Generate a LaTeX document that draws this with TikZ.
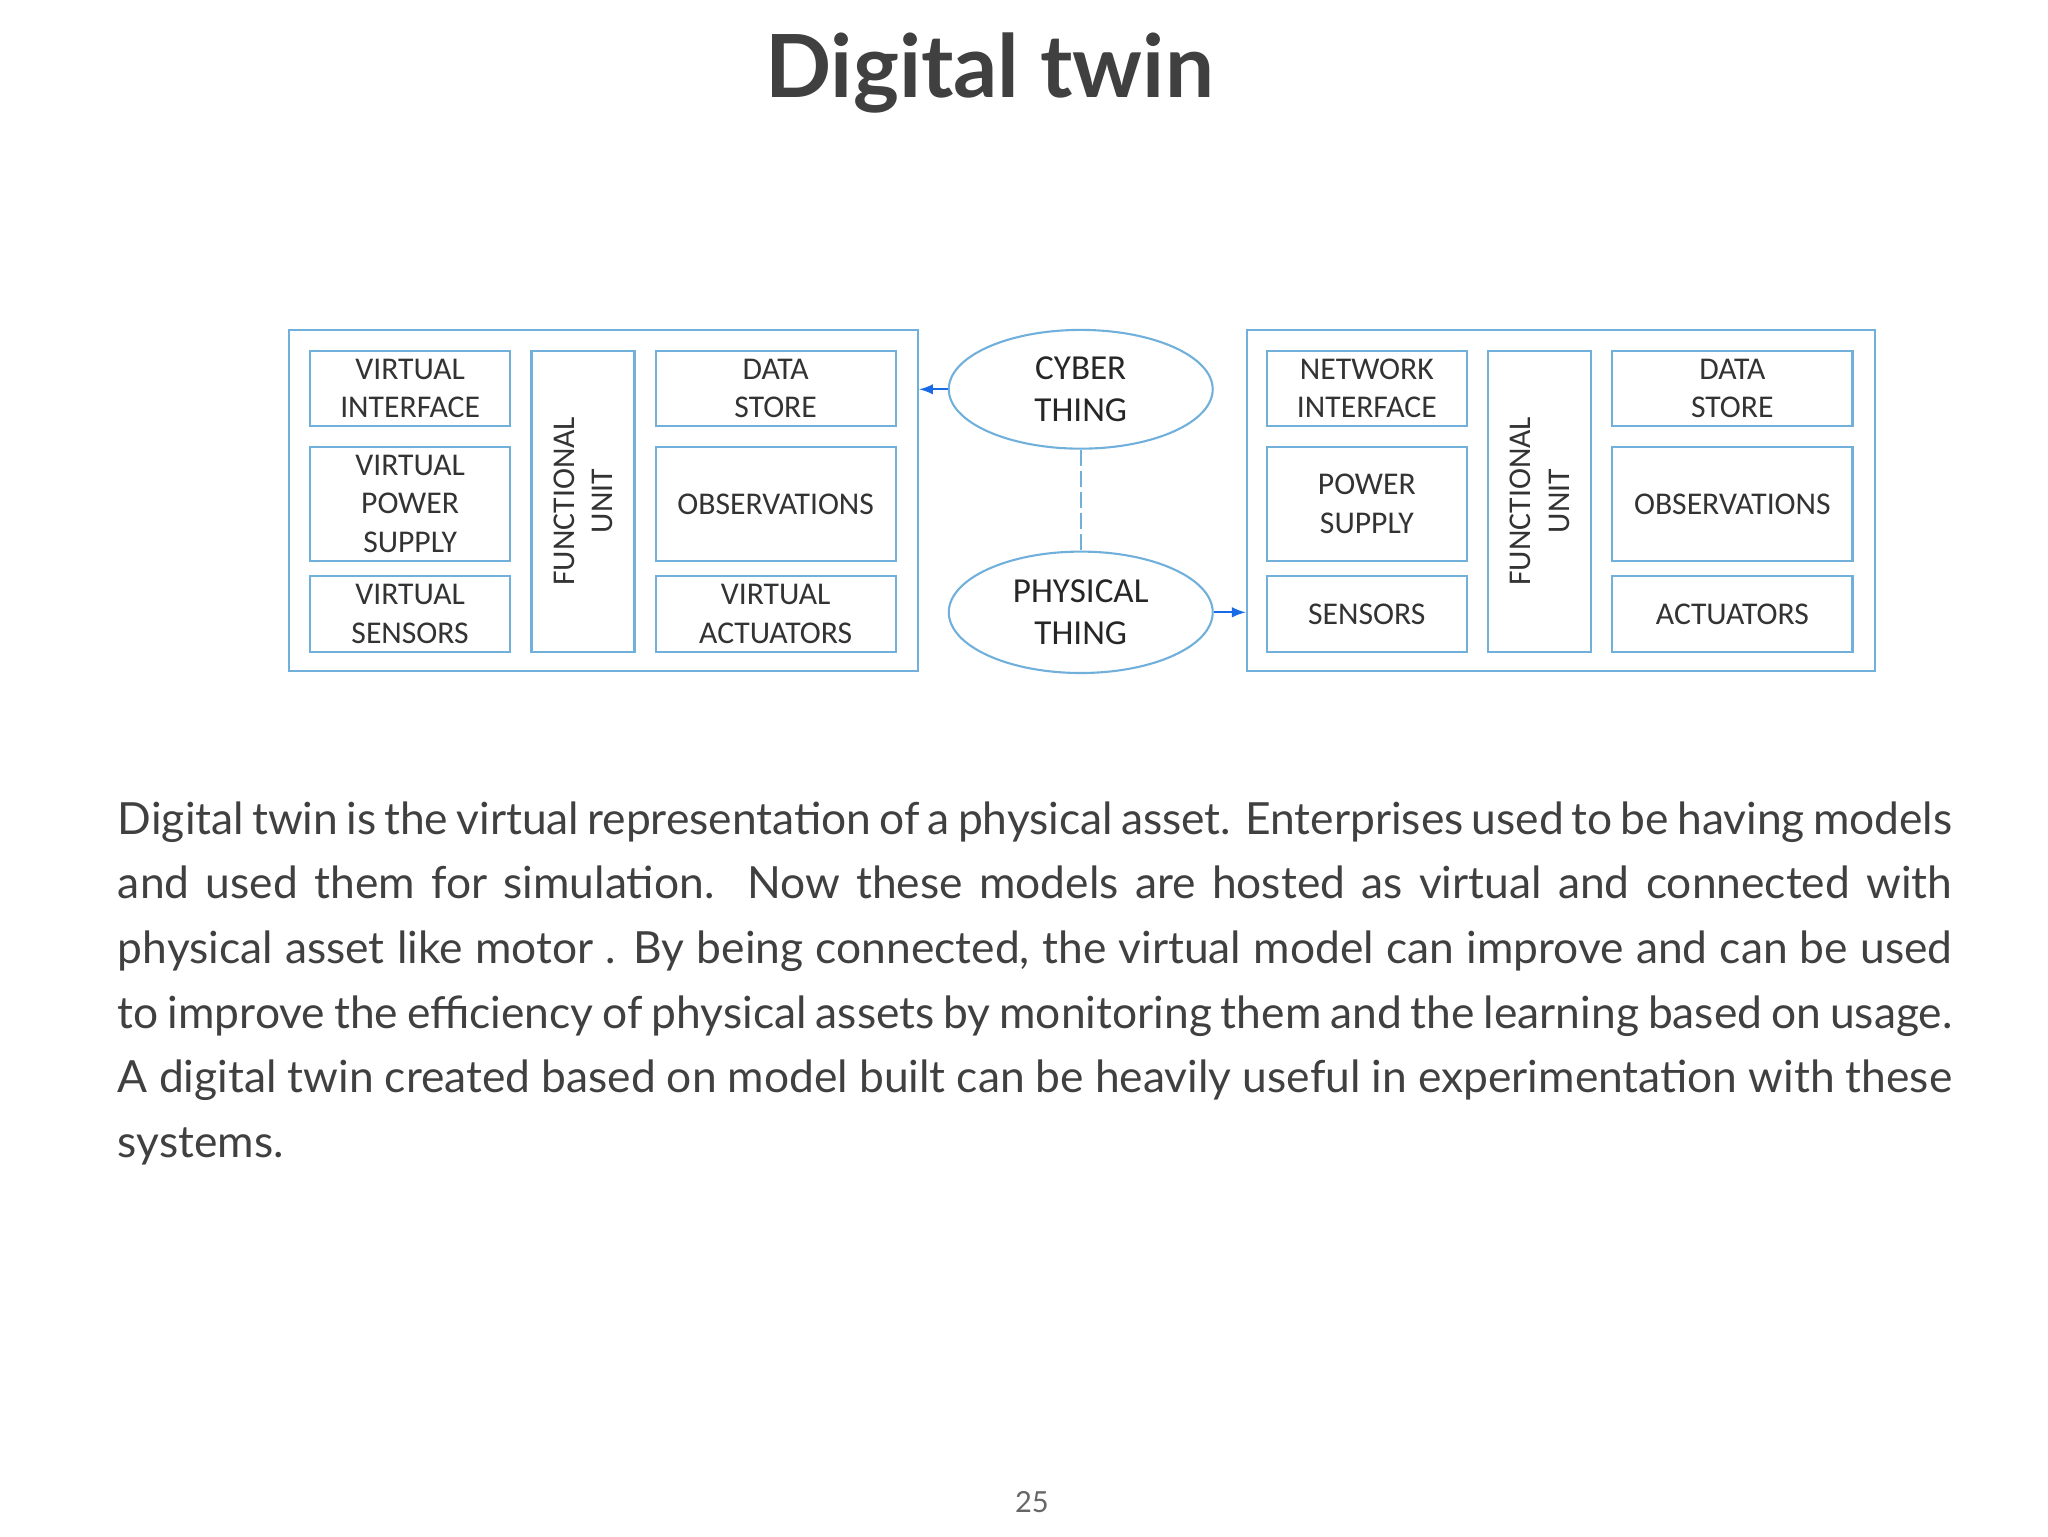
\documentclass[tikz,border=0pt]{standalone}
\usepackage{fontspec}
\usetikzlibrary{shapes.geometric}
\setmainfont{Lato}
\newfontfamily\diag{Carlito}
\begin{document}
\begin{tikzpicture}[x=0.5pt,y=-0.5pt,
  bx/.style={draw=blue!40!cyan!60!gray!70,line width=0.8pt,inner sep=0pt,font=\diag\fontsize{12}{14.5}\selectfont,text=black!80,align=center},
  rt/.style={font=\diag\fontsize{12}{14.5}\selectfont,text=black!80,align=center,rotate=90},
  ov/.style={ellipse,draw=blue!40!cyan!60!gray!70,line width=0.8pt,font=\diag\fontsize{13.3}{16}\selectfont,text=black!85,align=center,inner sep=0pt},
  arr/.style={draw=blue!60!cyan!80!gray,line width=0.8pt,-latex}]
\useasboundingbox (0,0) rectangle (1552,1164);
\node[font=\bfseries\fontsize{33}{38}\selectfont,text=black!75] (title) at (750,55) {Digital twin};
% left block
\node[bx,minimum width=238.5pt,minimum height=129.5pt,anchor=north west] (L) at (218,249) {};
\node[bx,minimum width=76pt,minimum height=28.5pt,anchor=north west] (l1) at (234,265) {VIRTUAL\\INTERFACE};
\node[bx,minimum width=76pt,minimum height=43pt,anchor=north west] (l2) at (234,338) {VIRTUAL\\POWER\\SUPPLY};
\node[bx,minimum width=76pt,minimum height=28.5pt,anchor=north west] (l3) at (234,436) {VIRTUAL\\SENSORS};
\node[bx,minimum width=39pt,minimum height=114pt,anchor=north west] (lf) at (402,265) {};
\node[rt] (lft) at (lf.center) {FUNCTIONAL\\UNIT};
\node[bx,minimum width=91pt,minimum height=28.5pt,anchor=north west] (l4) at (496,265) {DATA\\STORE};
\node[bx,minimum width=91pt,minimum height=43pt,anchor=north west] (l5) at (496,338) {OBSERVATIONS};
\node[bx,minimum width=91pt,minimum height=28.5pt,anchor=north west] (l6) at (496,436) {VIRTUAL\\ACTUATORS};
% right block
\node[bx,minimum width=238pt,minimum height=129.5pt,anchor=north west] (R) at (944,249) {};
\node[bx,minimum width=76pt,minimum height=28.5pt,anchor=north west] (r1) at (959,265) {NETWORK\\INTERFACE};
\node[bx,minimum width=76pt,minimum height=43pt,anchor=north west] (r2) at (959,338) {POWER\\SUPPLY};
\node[bx,minimum width=76pt,minimum height=28.5pt,anchor=north west] (r3) at (959,436) {SENSORS};
\node[bx,minimum width=39pt,minimum height=114pt,anchor=north west] (rf) at (1127,265) {};
\node[rt] (rft) at (rf.center) {FUNCTIONAL\\UNIT};
\node[bx,minimum width=91pt,minimum height=28.5pt,anchor=north west] (r4) at (1221,265) {DATA\\STORE};
\node[bx,minimum width=91pt,minimum height=43pt,anchor=north west] (r5) at (1221,338) {OBSERVATIONS};
\node[bx,minimum width=91pt,minimum height=28.5pt,anchor=north west] (r6) at (1221,436) {ACTUATORS};
% ellipses
\node[ov,minimum width=100pt,minimum height=45pt] (cy) at (819,295) {CYBER\\THING};
\node[ov,minimum width=100pt,minimum height=46pt] (ph) at (819,464) {PHYSICAL\\THING};
\draw[arr] (cy.west) -- (L.east |- cy.west);
\draw[arr] (ph.east) -- (R.west |- ph.east);
\draw[draw=blue!40!cyan!60!gray!70,line width=0.6pt,dash pattern=on 6pt off 2pt] (cy.south) -- (ph.north);
% body text
\node[anchor=north west,inner sep=0pt,text width=695pt,align=justify,text=black!75,font=\fontsize{16.8}{24.5}\selectfont] (body) at (89,607)
{\hyphenpenalty=10000\relax Digital twin is the virtual representation of a physical asset. Enterprises used to be having models and used them for simulation.\ \ Now these models are hosted as virtual and connected with physical asset like motor . By being connected, the virtual model can improve and can be used to improve the efficiency of physical assets by monitoring them and the learning based on usage. A digital twin created based on model built can be heavily useful in experimentation with these systems.};
\node[text=black!60,font=\fontsize{11}{13}\selectfont] (pg) at (782,1138) {25};
\end{tikzpicture}
\end{document}
